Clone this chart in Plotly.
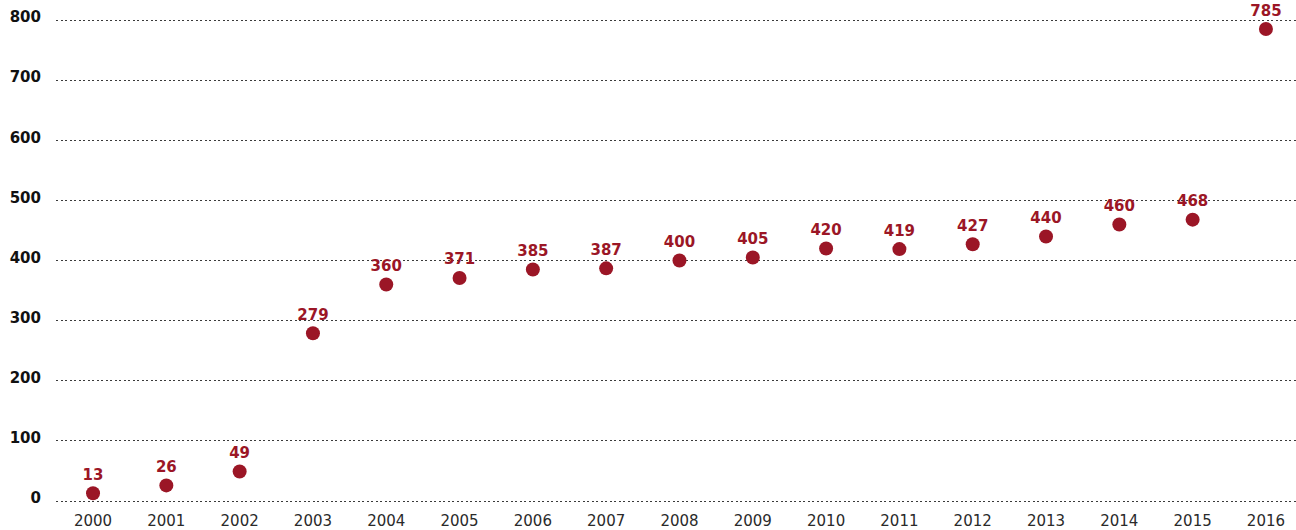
import plotly.graph_objects as go

years = ["2000", "2001", "2002", "2003", "2004", "2005", "2006", "2007", "2008",
         "2009", "2010", "2011", "2012", "2013", "2014", "2015", "2016"]
values = [13, 26, 49, 279, 360, 371, 385, 387, 400, 405, 420, 419, 427, 440, 460, 468, 785]
y_ticks = [0, 100, 200, 300, 400, 500, 600, 700, 800]

red = "#9b1626"

fig = go.Figure(go.Scatter(
    x=list(range(len(years))), y=values,
    mode="markers+text",
    marker=dict(size=14, color=red),
    text=[str(v) for v in values],
    textposition="top center",
    textfont=dict(family="DejaVu Sans", size=15, color=red, weight="bold"),
    cliponaxis=False,
    hoverinfo="skip",
))

fig.update_layout(
    width=1296, height=530,
    margin=dict(l=56, r=0, t=0, b=22, autoexpand=False),
    plot_bgcolor="white", paper_bgcolor="white",
    showlegend=False,
    xaxis=dict(
        range=[-0.505, 16.41],
        tickmode="array", tickvals=list(range(len(years))), ticktext=years,
        showgrid=False, zeroline=False, showline=False, ticks="",
        tickfont=dict(family="DejaVu Sans", size=15, color="#2a2a2a"),
        ticklabelstandoff=2, automargin=False,
    ),
    yaxis=dict(
        range=[-11.6, 833.3],
        tickmode="array", tickvals=y_ticks, ticktext=[str(v) for v in y_ticks],
        showgrid=True, gridcolor="#3a3a3a", gridwidth=1, griddash="2px,2.5px",
        zeroline=False, showline=False, ticks="",
        tickfont=dict(family="DejaVu Sans", size=15, color="#111", weight="bold"),
        ticklabelstandoff=14,
        ticklabelshift=-3, automargin=False,
    ),
)

fig.write_html(
    "out.html",
    config={"displayModeBar": False, "staticPlot": True},
    post_script="document.body.style.margin='0';document.body.style.padding='0';",
)
